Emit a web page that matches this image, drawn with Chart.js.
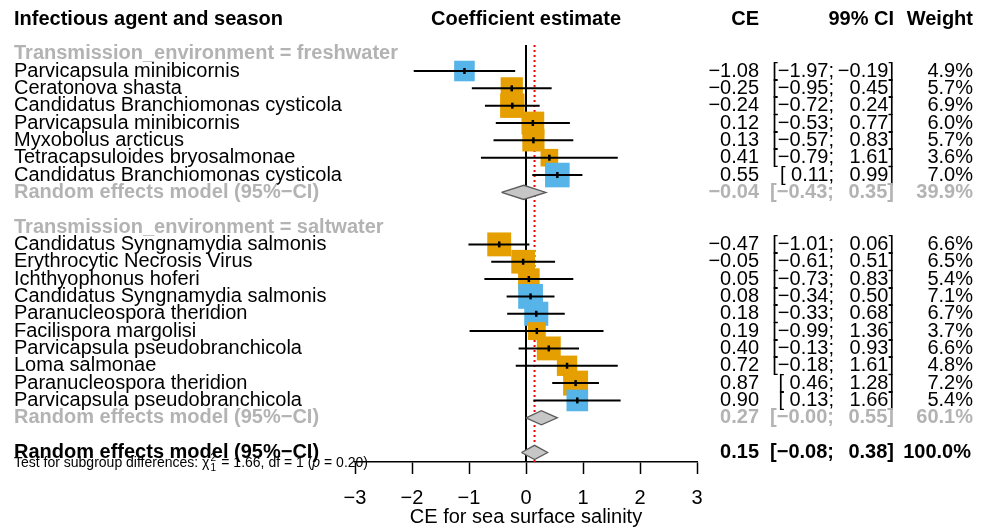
<!DOCTYPE html>
<html>
<head>
<meta charset="utf-8">
<title>CE for sea surface salinity</title>
<script src="https://cdn.jsdelivr.net/npm/chart.js@4.4.0/dist/chart.umd.min.js"></script>
<style>
  body { margin: 0; background: #fff; }
  #forest { display: block; }
</style>
</head>
<body>
<canvas id="forest" width="986" height="532"></canvas>
<script>
var FONT = '"Liberation Sans", Arial, sans-serif';
var BLUE = "#56B4E9";
var ORANGE = "#E69F00";
var GREY = "#b3b3b3";

// freshwater subgroup
var freshAgents = ["Parvicapsula minibicornis", "Ceratonova shasta", "Candidatus Branchiomonas cysticola",
  "Parvicapsula minibicornis", "Myxobolus arcticus", "Tetracapsuloides bryosalmonae", "Candidatus Branchiomonas cysticola"];
var freshCE = [-1.08, -0.25, -0.24, 0.12, 0.13, 0.41, 0.55];
var freshLower = [-1.97, -0.95, -0.72, -0.53, -0.57, -0.79, 0.11];
var freshUpper = [-0.19, 0.45, 0.24, 0.77, 0.83, 1.61, 0.99];
var freshWeight = [4.9, 5.7, 6.9, 6.0, 5.7, 3.6, 7.0];
var freshSeason = ["B", "A", "A", "A", "A", "A", "B"];
var freshPooled = [-0.04, -0.43, 0.35];
var freshPooledWeight = 39.9;

// saltwater subgroup
var saltAgents = ["Candidatus Syngnamydia salmonis", "Erythrocytic Necrosis Virus", "Ichthyophonus hoferi",
  "Candidatus Syngnamydia salmonis", "Paranucleospora theridion", "Facilispora margolisi",
  "Parvicapsula pseudobranchicola", "Loma salmonae", "Paranucleospora theridion", "Parvicapsula pseudobranchicola"];
var saltCE = [-0.47, -0.05, 0.05, 0.08, 0.18, 0.19, 0.40, 0.72, 0.87, 0.90];
var saltLower = [-1.01, -0.61, -0.73, -0.34, -0.33, -0.99, -0.13, -0.18, 0.46, 0.13];
var saltUpper = [0.06, 0.51, 0.83, 0.50, 0.68, 1.36, 0.93, 1.61, 1.28, 1.66];
var saltWeight = [6.6, 6.5, 5.4, 7.1, 6.7, 3.7, 6.6, 4.8, 7.2, 5.4];
var saltSeason = ["A", "A", "A", "B", "B", "A", "A", "A", "A", "B"];
var saltPooled = [0.27, -0.00, 0.55];
var saltPooledWeight = 60.1;

// overall random effects model + subgroup test
var overallPooled = [0.15, -0.08, 0.38];
var overallWeight = 100.0;
var testChi2 = 1.66;
var testDf = 1;
var testP = 0.20;

var xTicks = [-3, -2, -1, 0, 1, 2, 3];

var seasonColor = { A: ORANGE, B: BLUE };

function fmt(v) {
  var s = Math.abs(v).toFixed(2);
  return (v < 0 || Object.is(v, -0)) ? "\u2212" + s : s;
}

// one row per line of the table, y = row index
var rows = [];
function addGroup(title, agents, ce, lo, hi, w, season, pooled, pooledW) {
  rows.push({ kind: "group", label: title });
  for (var i = 0; i < agents.length; i++) {
    rows.push({ kind: "study", label: agents[i], ce: ce[i], lo: lo[i], hi: hi[i], w: w[i], season: season[i] });
  }
  rows.push({ kind: "pooled", label: "Random effects model (95%\u2212CI)", ce: pooled[0], lo: pooled[1], hi: pooled[2], w: pooledW });
  rows.push({ kind: "blank" });
}
addGroup("Transmission_environment = freshwater", freshAgents, freshCE, freshLower, freshUpper, freshWeight, freshSeason, freshPooled, freshPooledWeight);
addGroup("Transmission_environment = saltwater", saltAgents, saltCE, saltLower, saltUpper, saltWeight, saltSeason, saltPooled, saltPooledWeight);
rows.push({ kind: "overall", label: "Random effects model (95%\u2212CI)", ce: overallPooled[0], lo: overallPooled[1], hi: overallPooled[2], w: overallWeight });
rows.forEach(function (r, i) { r.y = i; });

var studies = rows.filter(function (r) { return r.kind == "study"; });
var pooledRows = rows.filter(function (r) { return r.kind == "pooled" || r.kind == "overall"; });
var yMax = rows.length - 1 + 0.55;

function squareSide(w) { return 9.3 * Math.sqrt(w); }

var datasets = [];

// zero line and dotted line at the overall estimate
datasets.push({
  data: [{ x: 0, y: -0.5 }, { x: 0, y: yMax }],
  showLine: true, borderColor: "#000", borderWidth: 2, pointRadius: 0, order: 6
});
datasets.push({
  data: [{ x: overallPooled[0], y: -0.5 }, { x: overallPooled[0], y: yMax }],
  showLine: true, borderColor: "#ff0000", borderWidth: 2, borderDash: [2, 3], pointRadius: 0, order: 5
});

// diamonds for the pooled estimates
pooledRows.forEach(function (r) {
  datasets.push({
    data: [{ x: r.lo, y: r.y }, { x: r.ce, y: r.y - 0.41 }, { x: r.hi, y: r.y }, { x: r.ce, y: r.y + 0.41 }, { x: r.lo, y: r.y }],
    showLine: true, fill: "shape", backgroundColor: "#c6c6c6", borderColor: "#5c5c5c", borderWidth: 1.3,
    pointRadius: 0, order: 4
  });
});

// weight squares
datasets.push({
  data: studies.map(function (r) { return { x: r.ce, y: r.y }; }),
  pointStyle: "rect",
  pointRadius: studies.map(function (r) { return squareSide(r.w) / Math.SQRT2; }),
  backgroundColor: studies.map(function (r) { return seasonColor[r.season]; }),
  borderWidth: 0, order: 3
});

// confidence intervals
studies.forEach(function (r) {
  datasets.push({
    data: [{ x: r.lo, y: r.y }, { x: r.hi, y: r.y }],
    showLine: true, borderColor: "#000", borderWidth: 2, pointRadius: 0, order: 2
  });
});

// small mark at each estimate
datasets.push({
  data: studies.map(function (r) { return { x: r.ce, y: r.y }; }),
  pointStyle: "line", rotation: 90, pointRadius: 3, borderColor: "#000", borderWidth: 2.5, order: 1
});

var tablePlugin = {
  id: "table",
  beforeDraw: function (chart) {
    // heterogeneity test line, drawn under the axis
    var ctx = chart.ctx;
    var yScale = chart.scales.y;
    var y = yScale.getPixelForValue(rows.length - 1) + 11;
    ctx.save();
    ctx.fillStyle = "#000";
    ctx.textBaseline = "middle";
    ctx.textAlign = "left";
    var x = 14;
    var parts = ["Test for subgroup differences: \u03c7", null, " = " + testChi2.toFixed(2) + ", df = " + testDf + " (", "p", " = " + testP.toFixed(2) + ")"];
    parts.forEach(function (p) {
      if (p === null) {
        ctx.font = "10px " + FONT;
        ctx.fillText("2", x + 1, y - 5);
        ctx.fillText(String(testDf), x + 1, y + 5);
        x += 8;
        return;
      }
      ctx.font = (p == "p" ? "italic " : "") + "14px " + FONT;
      ctx.fillText(p, x, y);
      x += ctx.measureText(p).width;
    });
    ctx.restore();
  },
  afterDraw: function (chart) {
    var ctx = chart.ctx;
    var yScale = chart.scales.y;
    var area = chart.chartArea;
    ctx.save();
    ctx.textBaseline = "middle";

    // column headers
    ctx.fillStyle = "#000";
    ctx.font = "bold 20px " + FONT;
    ctx.textAlign = "left";
    ctx.fillText("Infectious agent and season", 14, 19);
    ctx.textAlign = "center";
    ctx.fillText("Coefficient estimate", (area.left + area.right) / 2, 19);
    ctx.textAlign = "right";
    ctx.fillText("CE", 759, 19);
    ctx.fillText("99% CI", 894, 19);
    ctx.fillText("Weight", 973, 19);

    rows.forEach(function (r) {
      if (r.kind == "blank") return;
      var py = yScale.getPixelForValue(r.y);
      var bold = r.kind != "study";
      ctx.font = (bold ? "bold " : "") + "20px " + FONT;
      ctx.fillStyle = (r.kind == "group" || r.kind == "pooled") ? GREY : "#000";
      ctx.textAlign = "left";
      ctx.fillText(r.label, 14, py);
      if (r.kind == "group") return;
      ctx.textAlign = "right";
      ctx.fillText(fmt(r.ce), 759, py);
      var loTxt = "[" + ((r.lo < 0 || Object.is(r.lo, -0)) ? "" : " ") + fmt(r.lo) + ";";
      ctx.fillText(loTxt, 834, py);
      ctx.fillText(fmt(r.hi) + "]", 894, py);
      ctx.fillText(r.w.toFixed(1) + "%", r.kind == "overall" ? 971 : 973, py);
    });
    ctx.restore();
  }
};

new Chart(document.getElementById("forest"), {
  type: "scatter",
  data: { datasets: datasets },
  options: {
    responsive: false,
    animation: false,
    devicePixelRatio: 1,
    layout: { padding: { top: 45, left: 355, right: 289, bottom: 0 } },
    plugins: { legend: { display: false }, tooltip: { enabled: false } },
    scales: {
      x: {
        type: "linear",
        min: -3,
        max: 3,
        afterBuildTicks: function (scale) {
          scale.ticks = xTicks.map(function (v) { return { value: v }; });
        },
        afterFit: function (scale) { scale.height = 70; },
        ticks: {
          color: "#000",
          padding: 12,
          font: { family: FONT, size: 20 },
          callback: function (v) { return String(v).replace("-", "\u2212"); }
        },
        grid: { drawOnChartArea: false, drawTicks: true, tickLength: 12, tickWidth: 1.5, tickColor: "#000" },
        border: { display: true, color: "#000", width: 1.5 },
        title: {
          display: true,
          text: "CE for sea surface salinity",
          color: "#000",
          font: { family: FONT, size: 20 },
          padding: { top: 0, bottom: 3 }
        }
      },
      y: { type: "linear", reverse: true, min: -0.5, max: yMax, display: false }
    }
  },
  plugins: [tablePlugin]
});
</script>
</body>
</html>
